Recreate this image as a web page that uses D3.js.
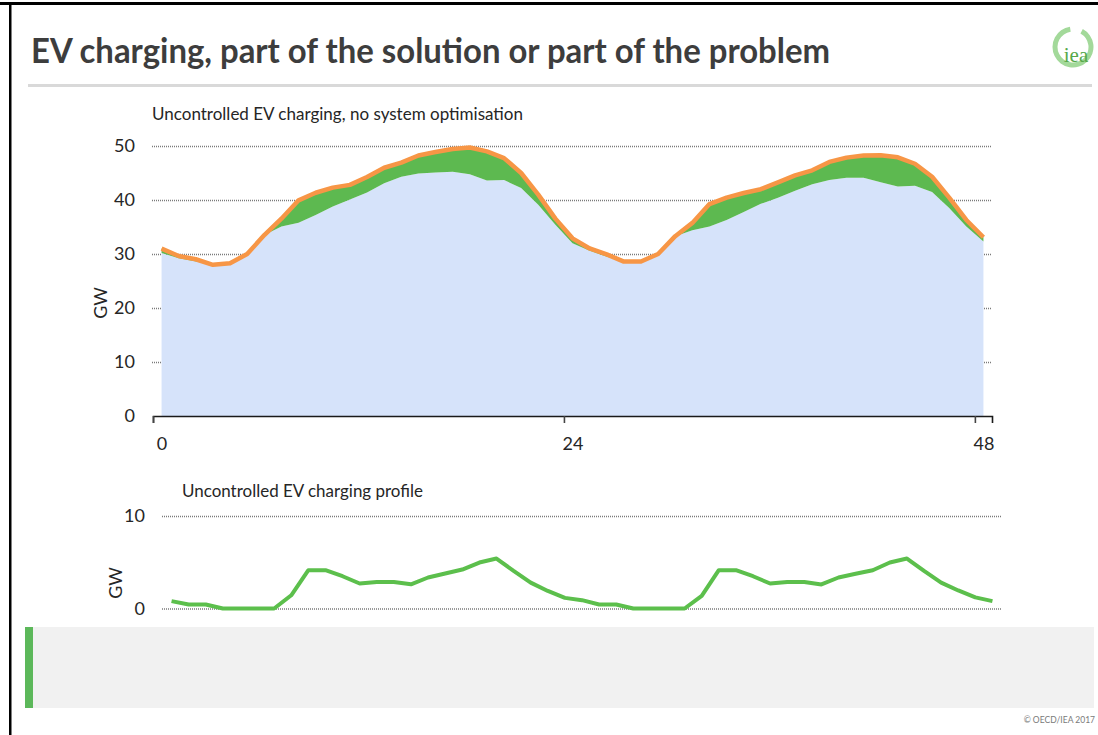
<!DOCTYPE html>
<html>
<head>
<meta charset="utf-8">
<script src="https://cdn.jsdelivr.net/npm/d3@7"></script>
<style>
  html, body { margin: 0; padding: 0; background: #fff; overflow: hidden; }
  svg { display: block; }
  text { font-family: Lato, "Open Sans", sans-serif; }
</style>
</head>
<body>
<svg id="chart" width="1098" height="735"></svg>
<script>
// ---------- data ----------
const hours = [0,1,2,3,4,5,6,7,8,9,10,11,12,13,14,15,16,17,18,19,20,21,22,23,24,
               25,26,27,28,29,30,31,32,33,34,35,36,37,38,39,40,41,42,43,44,45,46,47,48];
// demand without EV (GW)
const baseLoad = [30.2,29.2,28.6,28.0,28.3,30.0,33.5,35.1,35.8,37.2,
                  38.8,40.1,41.4,43.1,44.3,44.9,45.1,45.25,44.75,43.6,
                  43.7,42.2,39.1,35.4,32.0,30.6,29.5,28.6,28.6,30.0,
                  33.3,34.4,35.1,36.3,37.8,39.3,40.4,41.7,42.9,43.7,
                  44.1,44.1,43.3,42.5,42.65,41.5,38.5,35.1,32.3];
// uncontrolled EV charging (GW)
const evCharging = [0.8,0.43,0.43,0,0,0,0,1.43,4.14,4.14,
                    3.49,2.7,2.87,2.87,2.62,3.35,3.78,4.21,4.97,5.4,
                    4.06,2.8,1.9,1.15,0.9,0.43,0.43,0,0,0,
                    0,1.36,4.14,4.14,3.49,2.7,2.87,2.87,2.6,3.35,
                    3.75,4.14,4.97,5.4,4.06,2.8,1.95,1.2,0.8];
const xTickHours = [0, 24, 48];
const xTickLabels = ["0", "24", "48"];
const yTicksTop = [0, 10, 20, 30, 40, 50];
const yTicksBottom = [0, 10];

const titleText = "EV charging, part of the solution or part of the problem";
const subtitleTop = "Uncontrolled EV charging, no system optimisation";
const subtitleBottom = "Uncontrolled EV charging profile";

// ---------- setup ----------
const svg = d3.select("#chart");
const rows = hours.map((h, i) => ({ h, base: baseLoad[i], ev: evCharging[i], total: baseLoad[i] + evCharging[i] }));

// frame
svg.append("rect").attr("x", 0).attr("y", 2).attr("width", 1098).attr("height", 3).attr("fill", "#000");
svg.append("rect").attr("x", 9).attr("y", 2).attr("width", 2.5).attr("height", 733).attr("fill", "#000");

// title
svg.append("text").attr("x", 31).attr("y", 63)
  .attr("font-size", 35).attr("font-weight", 700).attr("fill", "#3d3d3d")
  .attr("textLength", 799).attr("lengthAdjust", "spacingAndGlyphs")
  .text(titleText);
svg.append("rect").attr("x", 28).attr("y", 84).attr("width", 1064).attr("height", 3).attr("fill", "#d9d9d9");

// logo
const logo = svg.append("g").attr("transform", "translate(1073,47)");
logo.append("path")
  .attr("d", d3.arc()({ innerRadius: 15.5, outerRadius: 20.5, startAngle: 0.5, endAngle: 2 * Math.PI - 0.15 }))
  .attr("fill", "#a3d99a");
logo.append("text").attr("x", 3).attr("y", 15).attr("text-anchor", "middle")
  .style("font-family", "'Liberation Serif', 'DejaVu Serif', serif").attr("font-size", 21).attr("fill", "#56a84a")
  .text("iea");

// ---------- top chart ----------
const xTop = d3.scaleLinear().domain([-0.5, 48.5]).range([153, 992]);
const yTop = d3.scaleLinear().domain([0, 50]).range([416, 146]);

svg.append("text").attr("x", 152).attr("y", 120).attr("font-size", 16.5).attr("fill", "#262626")
  .attr("textLength", 371).attr("lengthAdjust", "spacingAndGlyphs").text(subtitleTop);

const gyTop = svg.append("g").attr("transform", "translate(152,0)")
  .call(d3.axisLeft(yTop).tickValues(yTicksTop).tickSize(-840).tickPadding(17).tickFormat(d3.format("d")));
gyTop.select(".domain").remove();
gyTop.selectAll(".tick line").attr("stroke", "#7a7a7a").attr("stroke-width", 1.3).attr("stroke-dasharray", "1,1")
  .filter(d => d === 0).remove();
gyTop.selectAll(".tick text").attr("font-size", 18).attr("fill", "#262626").style("font-family", "Lato, sans-serif");

// areas
svg.append("path").datum(rows)
  .attr("d", d3.area().x(d => xTop(d.h)).y0(yTop(0)).y1(d => yTop(d.base)))
  .attr("fill", "#d6e3fa");
svg.append("path").datum(rows)
  .attr("d", d3.area().x(d => xTop(d.h)).y0(d => yTop(d.base)).y1(d => yTop(d.total)))
  .attr("fill", "#5db950");
svg.append("path").datum(rows)
  .attr("d", d3.line().x(d => xTop(d.h)).y(d => yTop(d.total)))
  .attr("fill", "none").attr("stroke", "#f79646").attr("stroke-width", 4.5).attr("stroke-linejoin", "round");

// x axis
const gxTop = svg.append("g").attr("transform", "translate(0,416)")
  .call(d3.axisBottom(xTop).tickValues(xTickHours.map(h => h - 0.5)).tickSizeOuter(0).tickSize(7)
        .tickFormat((d, i) => xTickLabels[i]).tickPadding(14));
gxTop.select(".domain").attr("stroke", "#1a1a1a").attr("stroke-width", 1.6);
gxTop.selectAll(".tick line").attr("stroke", "#444").attr("stroke-width", 1.6);
const half = (xTop(1) - xTop(0)) / 2;
gxTop.selectAll(".tick text").attr("x", half).attr("font-size", 18).attr("fill", "#262626")
  .style("font-family", "Lato, sans-serif");

svg.append("text").attr("transform", "translate(107,303) rotate(-90)").attr("text-anchor", "middle")
  .attr("font-size", 18).attr("fill", "#262626").text("GW");

// ---------- bottom chart ----------
const xBot = d3.scaleLinear().domain([-0.5, 48.5]).range([163, 1001]);
const yBot = d3.scaleLinear().domain([0, 10]).range([608.5, 516]);

svg.append("text").attr("x", 182).attr("y", 497).attr("font-size", 16.5).attr("fill", "#262626")
  .attr("textLength", 241).attr("lengthAdjust", "spacingAndGlyphs").text(subtitleBottom);

const gyBot = svg.append("g").attr("transform", "translate(162,0)")
  .call(d3.axisLeft(yBot).tickValues(yTicksBottom).tickSize(-839).tickPadding(17).tickFormat(d3.format("d")));
gyBot.select(".domain").remove();
gyBot.selectAll(".tick line").attr("stroke", "#7a7a7a").attr("stroke-width", 1.3).attr("stroke-dasharray", "1,1");
gyBot.selectAll(".tick text").attr("font-size", 18).attr("fill", "#262626").style("font-family", "Lato, sans-serif");

svg.append("path").datum(rows)
  .attr("d", d3.line().x(d => xBot(d.h)).y(d => yBot(d.ev)))
  .attr("fill", "none").attr("stroke", "#5cbf4c").attr("stroke-width", 4).attr("stroke-linejoin", "round");

svg.append("text").attr("transform", "translate(122,583) rotate(-90)").attr("text-anchor", "middle")
  .attr("font-size", 18).attr("fill", "#262626").text("GW");

// ---------- footer ----------
svg.append("rect").attr("x", 26).attr("y", 627).attr("width", 1068).attr("height", 81).attr("fill", "#f1f1f1");
svg.append("rect").attr("x", 25).attr("y", 627).attr("width", 8).attr("height", 81).attr("fill", "#5cb85a");
svg.append("text").attr("x", 1095).attr("y", 723).attr("text-anchor", "end").attr("font-size", 8.5).attr("fill", "#7a7a7a")
  .text("© OECD/IEA 2017");
</script>
</body>
</html>
